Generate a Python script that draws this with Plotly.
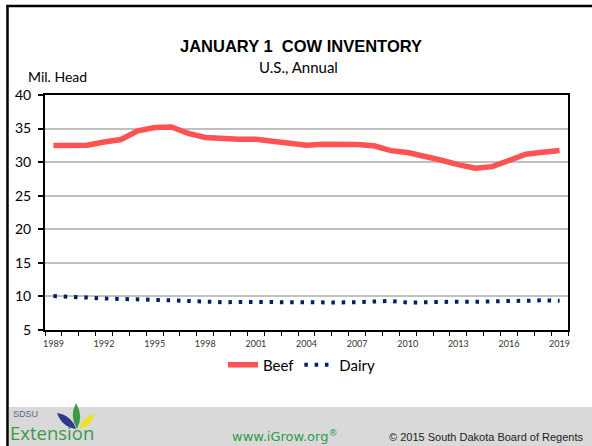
import plotly.graph_objects as go

# January 1 cow inventory, U.S., million head
years = list(range(1989, 2020))
beef = [32.49, 32.45, 32.52, 33.01, 33.37, 34.65, 35.16, 35.23, 34.27, 33.68,
        33.49, 33.41, 33.40, 33.13, 32.98, 32.53, 32.67, 32.70, 32.64, 32.44,
        31.71, 31.44, 30.91, 30.28, 29.63, 29.09, 29.33, 30.16, 31.17, 31.47,
        31.72]
dairy = [10.05, 9.99, 9.83, 9.69, 9.58, 9.49, 9.49, 9.42, 9.31, 9.20,
         9.13, 9.18, 9.17, 9.11, 9.14, 9.01, 9.01, 9.10, 9.15, 9.26,
         9.33, 9.09, 9.16, 9.24, 9.22, 9.21, 9.31, 9.32, 9.35, 9.43,
         9.35]
label_years = list(range(1989, 2020, 3))
y_ticks = [5, 10, 15, 20, 25, 30, 35, 40]

W, H = 592, 446
L, R, T, B = 45, 568, 95, 330  # plot area in page pixels


def px(x):
    return (x - L) / (R - L)


def py(y):
    return (B - y) / (B - T)


def leaf(tip, base, bulge):
    # pointed leaf outline between two points, as a paper-space path
    (x1, y1), (x2, y2) = tip, base
    mx, my = (x1 + x2) / 2, (y1 + y2) / 2
    dx, dy = x2 - x1, y2 - y1
    n = (dx * dx + dy * dy) ** 0.5
    nx, ny = -dy / n * bulge, dx / n * bulge
    pts = [(x1, y1), (mx + nx, my + ny), (x2, y2), (mx - nx, my - ny)]
    p = [(px(a), py(b)) for a, b in pts]
    return (f"M{p[0][0]},{p[0][1]} Q{p[1][0]},{p[1][1]} {p[2][0]},{p[2][1]} "
            f"Q{p[3][0]},{p[3][1]} {p[0][0]},{p[0][1]} Z")


fig = go.Figure()
fig.add_trace(go.Scatter(
    x=years, y=beef, name="Beef", mode="lines",
    line=dict(color="#FF5252", width=5.5)))
fig.add_trace(go.Scatter(
    x=years, y=dairy, name="Dairy", mode="lines",
    line=dict(color="#002060", width=4, dash="3.5px,6.8px")))

fig.update_layout(
    width=W, height=H,
    margin=dict(l=L, r=W - R, t=T, b=H - B, pad=0),
    paper_bgcolor="white", plot_bgcolor="white",
    font=dict(family="Lato", color="black"),
    showlegend=True,
    legend=dict(orientation="h", x=px(302), y=py(365), xanchor="center",
                yanchor="middle", font=dict(family="Lato", size=15),
                itemwidth=30, tracegroupgap=0, bgcolor="rgba(0,0,0,0)"),
    xaxis=dict(
        range=[1988.5, 2019.5], tickvals=label_years,
        ticktext=[str(v) for v in label_years],
        ticks="outside", ticklen=4, tickcolor="rgba(0,0,0,0)",
        tickfont=dict(family="Lato", size=9, color="#333333"),
        showgrid=False, zeroline=False,
        showline=True, linecolor="black", linewidth=2, mirror=True,
        minor=dict(tickvals=[y - 0.5 for y in years] + [2019.5],
                   ticks="outside", ticklen=4, tickcolor="black", tickwidth=1),
    ),
    yaxis=dict(
        range=[5, 40], tickvals=y_ticks,
        ticks="outside", ticklen=5, tickcolor="black", tickwidth=1.5,
        tickfont=dict(family="Lato", size=14, color="black"),
        showgrid=True, gridcolor="#C0C0C0", gridwidth=1.5,
        zeroline=False,
        showline=True, linecolor="black", linewidth=2, mirror=True,
        ticklabelstandoff=4,
    ),
)

shapes = [
    # footer band
    dict(type="rect", xref="paper", yref="paper", x0=px(9), x1=px(W),
         y0=py(407), y1=py(H + 2), fillcolor="#D9D9D9", line_width=0,
         layer="below"),
    # page frame, top and left
    dict(type="line", xref="paper", yref="paper", x0=px(6.5), x1=px(W),
         y0=py(6), y1=py(6), line=dict(color="black", width=2.5)),
    dict(type="line", xref="paper", yref="paper", x0=px(7.5), x1=px(7.5),
         y0=py(5), y1=py(H + 2), line=dict(color="black", width=2.5)),
    # logo leaves
    dict(type="path", xref="paper", yref="paper",
         path=leaf((57, 413), (76, 429), 7.5), fillcolor="#2B3A8C", line_width=0),
    dict(type="path", xref="paper", yref="paper",
         path=leaf((79, 429), (95, 414), 7), fillcolor="#E8E22A", line_width=0),
    dict(type="path", xref="paper", yref="paper",
         path=leaf((76, 403), (77, 429), 7.5), fillcolor="#3A9A48", line_width=0),
]
fig.update_layout(shapes=shapes)

annotations = [
    dict(text="<b>JANUARY 1\u00a0 COW INVENTORY</b>", x=px(301), y=py(46),
         font=dict(family="Liberation Sans", size=16.5, color="black")),
    dict(text="U.S., Annual", x=px(298), y=py(67),
         font=dict(family="Lato", size=15, color="black")),
    dict(text="Mil. Head", x=px(57), y=py(77),
         font=dict(family="Lato", size=14, color="black")),
    dict(text="SDSU", x=px(12), y=py(414), xanchor="left", borderpad=0,
         font=dict(family="Liberation Sans", size=9, color="#5A6A8A")),
    dict(text="Extension", x=px(9), y=py(446), xanchor="left",
         yanchor="bottom", borderpad=0,
         font=dict(family="Open Sans", size=18.5, color="#3D9A47")),
    dict(text="www.iGrow.org<sup>®</sup>", x=px(285), y=py(436),
         font=dict(family="DejaVu Sans", size=13, color="#2E9A4A")),
    dict(text="© 2015 South Dakota Board of Regents", x=px(586), y=py(437),
         xanchor="right",
         font=dict(family="Liberation Sans", size=11, color="#222222")),
]
for a in annotations:
    a.setdefault("xanchor", "center")
    a.setdefault("yanchor", "middle")
    a.update(xref="paper", yref="paper", showarrow=False)
fig.update_layout(annotations=annotations)

fig.write_html("out.html")
